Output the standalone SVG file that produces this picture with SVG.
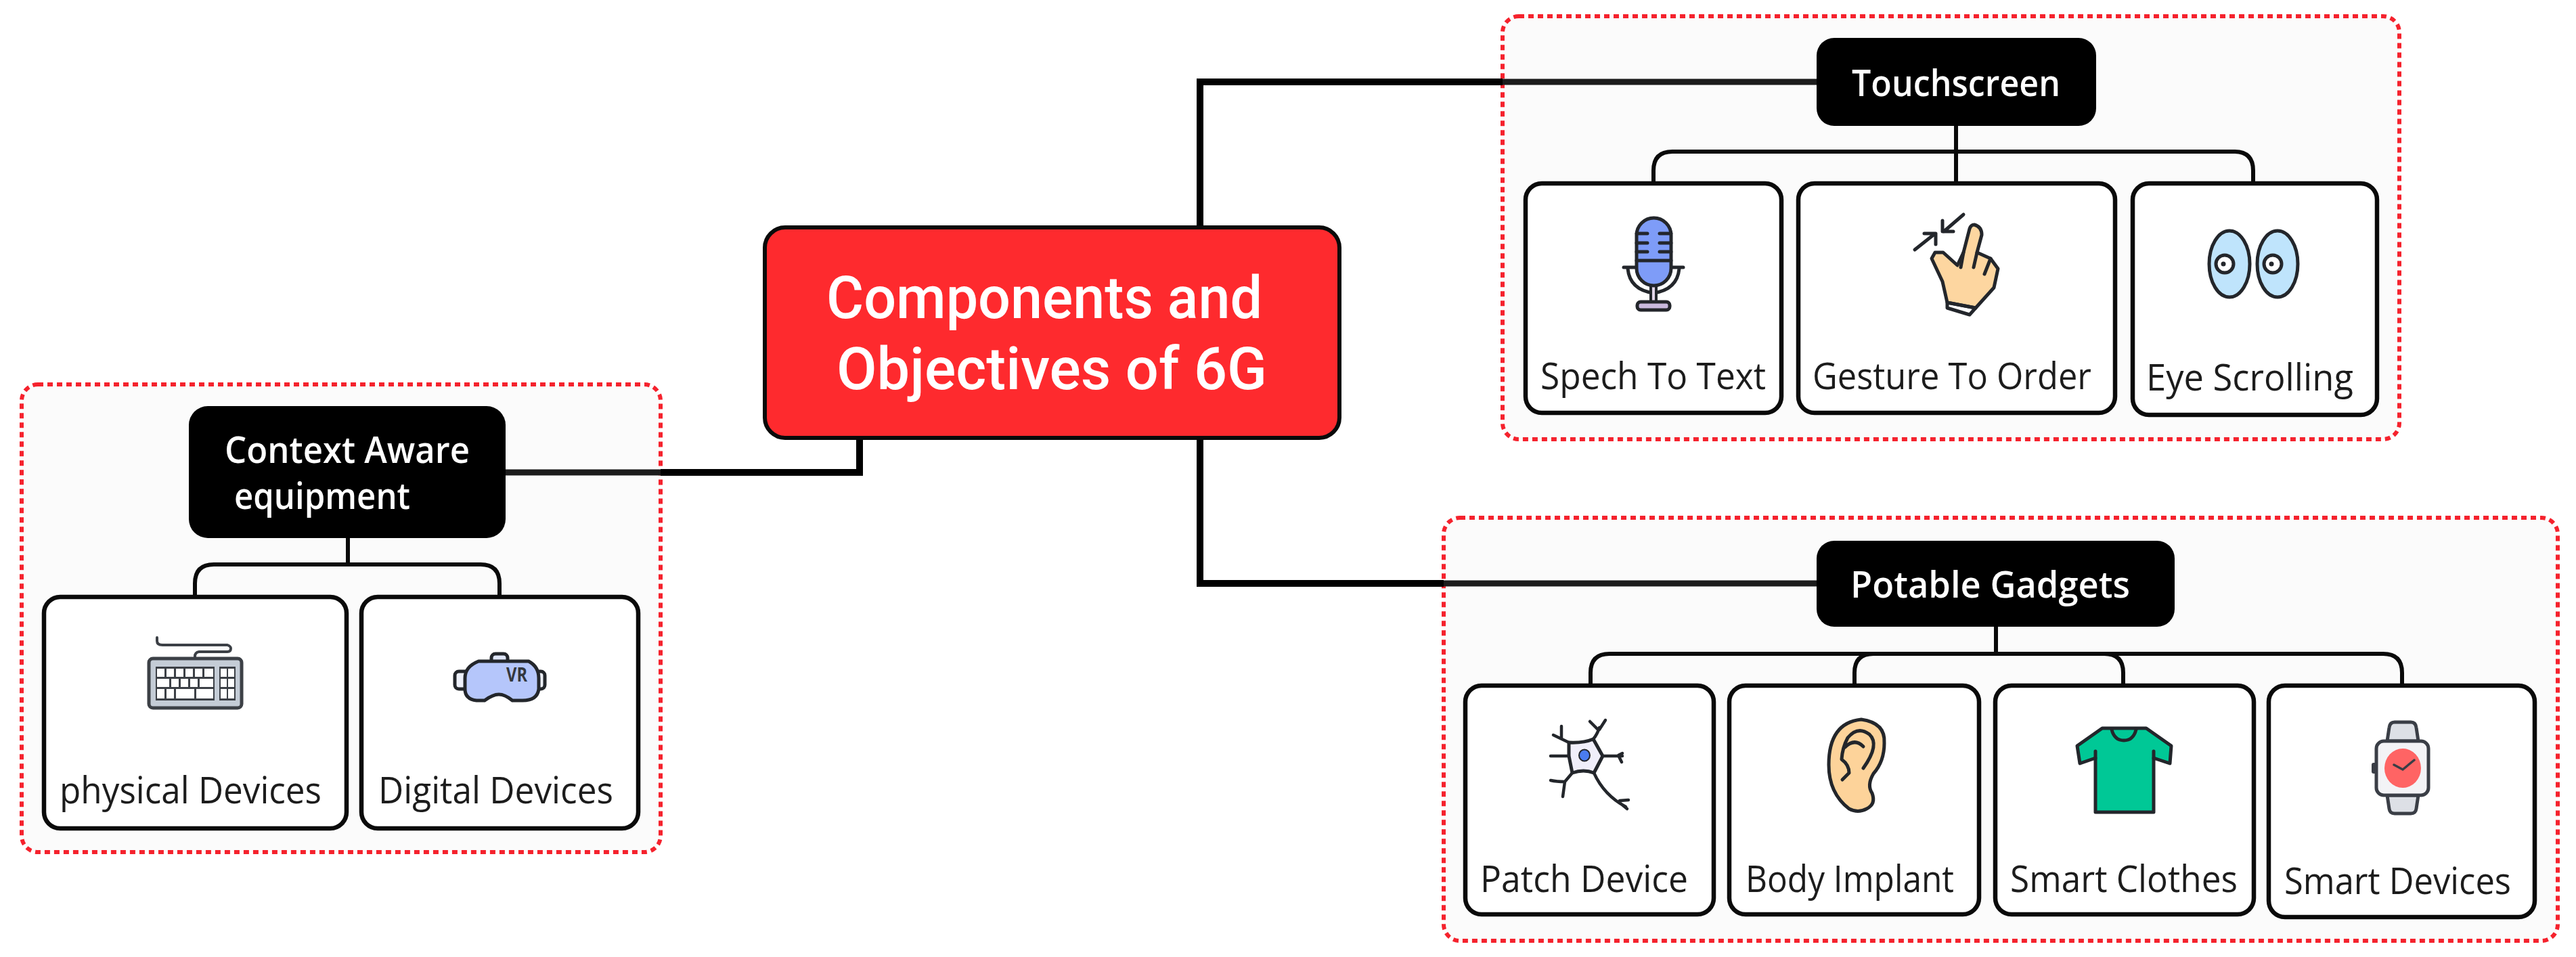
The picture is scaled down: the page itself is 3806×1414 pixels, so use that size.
<svg xmlns="http://www.w3.org/2000/svg" width="3806" height="1414" viewBox="0 0 3806 1414">
<defs>
<style>
text{font-family:"Open Sans","Noto Sans","Liberation Sans",sans-serif}
.panel{fill:#fbfbfb;stroke:#f5222d;stroke-width:6;stroke-dasharray:8 6}
.leaf{fill:#fff;stroke:#0a0a0a;stroke-width:6.5}
.head{fill:#000}
.root{fill:#fe2a2e;stroke:#0a0a0a;stroke-width:6}
.lt{font-size:54px;fill:#1c1c1c}
.ht{font-size:54px;fill:#fff;font-weight:600}
.rt{font-family:"Roboto","Open Sans",sans-serif;font-size:88px;fill:#fff;font-weight:500}
.main{fill:none;stroke:#000;stroke-width:10}
.in{fill:none;stroke:#1c1c1c;stroke-width:9}
.bus{fill:none;stroke:#0a0a0a;stroke-width:6}
.ic{stroke:#23262b;stroke-width:5;stroke-linejoin:round;stroke-linecap:round}
.il{fill:none;stroke:#23262b;stroke-width:5;stroke-linejoin:round;stroke-linecap:round}
.kw{fill:#fff}
</style>
</defs>
<rect width="3806" height="1414" fill="#fff"/>
<g id="panels">
<rect class="panel" x="2220" y="24" width="1325" height="625" rx="24"/>
<rect class="panel" x="2133" y="765" width="1646" height="625" rx="24"/>
<rect class="panel" x="32" y="568" width="944" height="691" rx="24"/>
</g>
<g id="connectors">
<path class="main" d="M1773,336V121H2220"/>
<path class="in" d="M2220,121H2684"/>
<path class="main" d="M1773,647V862H2133"/>
<path class="in" d="M2133,862H2684"/>
<path class="main" d="M1270,647V698H976"/>
<path class="in" d="M976,698H747"/>
<path class="bus" d="M2890,186V271M2443,271V252Q2443,224 2471,224H3301Q3329,224 3329,252V271"/>
<path class="bus" d="M2949,926V968M2350,1013V994Q2350,966 2378,966H3521Q3549,966 3549,994V1013M2740,1013V994Q2740,966 2768,966H3109Q3137,966 3137,994V1013"/>
<path class="bus" d="M514,795V834M288,882V862Q288,834 316,834H710Q738,834 738,862V882"/>
</g>
<g id="root"><rect class="root" x="1130" y="336" width="849" height="311" rx="30"/>
<text class="rt" x="1221" y="470" textLength="644" lengthAdjust="spacingAndGlyphs">Components and</text>
<text class="rt" x="1236" y="575" textLength="636" lengthAdjust="spacingAndGlyphs">Objectives of 6G</text></g>

<g id="touchscreen"><rect class="head" x="2684" y="56" width="413" height="130" rx="26"/>
<text class="ht" x="2736" y="142" textLength="308" lengthAdjust="spacingAndGlyphs">Touchscreen</text></g>

<g id="speech"><rect class="leaf" x="2254" y="271" width="378" height="339" rx="24"/>
<g id="mic">
<path class="il" d="M2399,395H2487M2405,397Q2408,428 2443,433Q2478,428 2481,397"/>
<rect x="2439" y="420" width="8" height="27" fill="#e3d6ea" stroke="#23262b" stroke-width="4"/>
<rect x="2419" y="446" width="48" height="12" rx="5" fill="#c9b9dd" stroke="#23262b" stroke-width="5"/>
<rect class="ic" x="2418" y="322" width="51" height="100" rx="25.5" fill="#7e9cf8"/>
<path class="il" d="M2418,385H2469M2418,345H2434M2452,345H2469M2418,359H2434M2452,359H2469M2418,372H2434M2452,372H2469"/>
</g>
<text class="lt" x="2276" y="575" textLength="333" lengthAdjust="spacingAndGlyphs">Spech To Text</text></g>

<g id="gesture"><rect class="leaf" x="2657" y="271" width="468" height="339" rx="24"/>
<g id="hand">
<path class="ic" fill="#fdd6a0" d="M2917,332Q2928,335 2928,347L2921,373L2941,382L2952,397L2946,425L2919,455L2877,447L2870,416L2854,382L2859,373H2871L2892,392L2901,373L2910,338Q2912,332 2917,332Z"/>
<path class="il" fill="#fff" d="M2877,447L2919,455L2910,465L2877,455Z"/>
<path class="il" d="M2921,373L2916,395M2941,382L2932,405M2901,373L2897,395"/>
<path class="il" d="M2901,317L2872,342M2870,326V342H2886M2829,369L2858,346M2843,345H2860V361"/>
</g>
<text class="lt" x="2678" y="575" textLength="412" lengthAdjust="spacingAndGlyphs">Gesture To Order</text></g>

<g id="eye"><rect class="leaf" x="3151" y="271" width="361" height="342" rx="24"/>
<g id="eyes">
<ellipse class="ic" cx="3294" cy="390" rx="30" ry="49" fill="#bfe4fc"/>
<ellipse class="ic" cx="3365" cy="390" rx="30" ry="49" fill="#bfe4fc"/>
<circle class="ic" cx="3287" cy="390" r="13" fill="#fff" stroke-width="4"/>
<circle class="ic" cx="3358" cy="390" r="13" fill="#fff" stroke-width="4"/>
<circle cx="3285" cy="390" r="3.5" fill="#23262b"/>
<circle cx="3356" cy="390" r="3.5" fill="#23262b"/>
</g>
<text class="lt" x="3171" y="577" textLength="306" lengthAdjust="spacingAndGlyphs">Eye Scrolling</text></g>

<g id="potable"><rect class="head" x="2684" y="799" width="529" height="127" rx="26"/>
<text class="ht" x="2734" y="883" textLength="413" lengthAdjust="spacingAndGlyphs">Potable Gadgets</text></g>

<g id="patch"><rect class="leaf" x="2165" y="1013" width="367" height="338" rx="24"/>
<g id="neuron">
<path class="ic" fill="#f0eefa" stroke-width="4.5" d="M2318,1097Q2340,1098 2354,1092L2368,1117L2355,1142Q2340,1136 2323,1142L2318,1117Z"/>
<ellipse cx="2341" cy="1116" rx="8" ry="8.5" fill="#4a7cf0" stroke="#23262b" stroke-width="2"/>
<path class="il" style="stroke-width:4.5" d="M2318,1097L2295,1086M2307,1073V1091M2354,1092Q2360,1085 2363,1075M2349,1066L2361,1078M2372,1064L2363,1078M2368,1117H2397M2397,1113L2391,1116L2396,1126M2318,1117H2291M2323,1142L2312,1155Q2300,1155 2291,1153M2312,1155L2309,1177M2355,1142Q2370,1175 2402,1192M2393,1183L2406,1182M2393,1186L2404,1195"/>
</g>
<text class="lt" x="2187" y="1318" textLength="307" lengthAdjust="spacingAndGlyphs">Patch Device</text></g>

<g id="body"><rect class="leaf" x="2555" y="1013" width="369" height="338" rx="24"/>
<g id="ear">
<path class="ic" fill="#fdd39a" d="M2750,1063Q2786,1068 2784,1098Q2784,1125 2768,1143Q2758,1160 2766,1172Q2772,1188 2758,1195Q2745,1202 2732,1195Q2702,1172 2702,1130Q2702,1068 2750,1063Z"/>
<path class="il" d="M2753,1135Q2778,1100 2762,1085Q2745,1072 2730,1090Q2722,1105 2721,1122Q2732,1130 2732,1142L2722,1152M2726,1104Q2740,1090 2753,1103"/>
</g>
<text class="lt" x="2579" y="1318" textLength="308" lengthAdjust="spacingAndGlyphs">Body Implant</text></g>

<g id="clothes"><rect class="leaf" x="2948" y="1013" width="382" height="338" rx="24"/>
<g id="shirt">
<path class="ic" fill="#00c896" d="M3106,1076H3171L3208,1102L3206,1128L3182,1120V1200H3096V1120L3073,1128L3069,1102Z"/>
<path class="il" d="M3120,1078Q3124,1094 3138,1094Q3152,1094 3156,1078M3096,1110V1120M3182,1110V1120"/>
</g>
<text class="lt" x="2970" y="1318" textLength="336" lengthAdjust="spacingAndGlyphs">Smart Clothes</text></g>

<g id="smart"><rect class="leaf" x="3352" y="1013" width="393" height="342" rx="24"/>
<g id="watch">
<path fill="#dde0e6" stroke="#3a3e46" stroke-width="5" stroke-linejoin="round" d="M3527,1095L3530,1075Q3531,1067 3538,1067H3562Q3569,1067 3570,1075L3573,1095ZM3527,1175L3530,1195Q3531,1202 3538,1202H3562Q3569,1202 3570,1195L3573,1175Z"/>
<rect x="3504" y="1127" width="8" height="16" rx="3" fill="#3a3e46"/>
<rect x="3511" y="1095" width="77" height="80" rx="11" fill="#f3f3f6" stroke="#3a3e46" stroke-width="5"/>
<ellipse cx="3550" cy="1135" rx="27" ry="29" fill="#ff6464"/>
<path d="M3537,1130L3550,1137L3567,1123" fill="none" stroke="#3a3e46" stroke-width="3.5" stroke-linecap="round"/>
</g>
<text class="lt" x="3375" y="1321" textLength="335" lengthAdjust="spacingAndGlyphs">Smart Devices</text></g>

<g id="context"><rect class="head" x="279" y="600" width="468" height="195" rx="28"/>
<text class="ht" x="332" y="684" textLength="362" lengthAdjust="spacingAndGlyphs">Context Aware</text>
<text class="ht" x="346" y="752" textLength="260" lengthAdjust="spacingAndGlyphs">equipment</text></g>

<g id="physical"><rect class="leaf" x="65" y="882" width="447" height="342" rx="24"/>
<g id="keyboard">
<path class="il" d="M232,942V947Q232,953 240,953H336Q341,955 341,958Q341,963 336,963H294Q288,964 288,970V973" style="stroke:#3c4046;stroke-width:4"/>
<rect x="220" y="973" width="137" height="73" rx="6" fill="#c4ccd6" stroke="#3c4046" stroke-width="5"/>
<rect x="230" y="985" width="87" height="50" fill="#3c4046"/>
<rect x="324" y="985" width="24" height="50" fill="#3c4046"/>
<g class="kw">
<rect x="232" y="988" width="11" height="12"/><rect x="246" y="988" width="11" height="12"/><rect x="260" y="988" width="11" height="12"/><rect x="274" y="988" width="11" height="12"/><rect x="288" y="988" width="11" height="12"/><rect x="302" y="988" width="13" height="12"/>
<rect x="232" y="1003" width="18" height="12"/><rect x="253" y="1003" width="11" height="12"/><rect x="267" y="1003" width="11" height="12"/><rect x="281" y="1003" width="11" height="12"/><rect x="295" y="1003" width="20" height="12"/>
<rect x="232" y="1018" width="11" height="14"/><rect x="246" y="1018" width="11" height="14"/><rect x="260" y="1018" width="27" height="14"/><rect x="290" y="1018" width="25" height="14"/>
<rect x="326" y="988" width="9" height="12"/><rect x="337" y="988" width="9" height="12"/><rect x="326" y="1003" width="9" height="12"/><rect x="337" y="1003" width="9" height="12"/><rect x="326" y="1018" width="9" height="14"/><rect x="337" y="1018" width="9" height="14"/>
</g>
</g>
<text class="lt" x="88" y="1187" textLength="387" lengthAdjust="spacingAndGlyphs">physical Devices</text></g>

<g id="digital"><rect class="leaf" x="534" y="882" width="409" height="342" rx="24"/>
<g id="vr">
<rect class="ic" x="726" y="966" width="24" height="16" rx="6" fill="#dfe6fb" stroke-width="4"/>
<rect class="ic" x="672" y="992" width="22" height="26" rx="6" fill="#eef1fb" stroke-width="4"/>
<rect class="ic" x="790" y="992" width="15" height="26" rx="6" fill="#eef1fb" stroke-width="4"/>
<path class="ic" fill="#b5c6fb" d="M707,977H781Q796,985 796,1002V1018Q794,1035 772,1035H757Q746,1026 737,1026Q728,1026 716,1035H704Q687,1033 687,1018V1002Q687,985 707,977Z"/>
<text x="748" y="1007" font-size="29" font-weight="700" fill="#33373e" textLength="31" lengthAdjust="spacingAndGlyphs">VR</text>
</g>
<text class="lt" x="559" y="1187" textLength="347" lengthAdjust="spacingAndGlyphs">Digital Devices</text></g>
</svg>
